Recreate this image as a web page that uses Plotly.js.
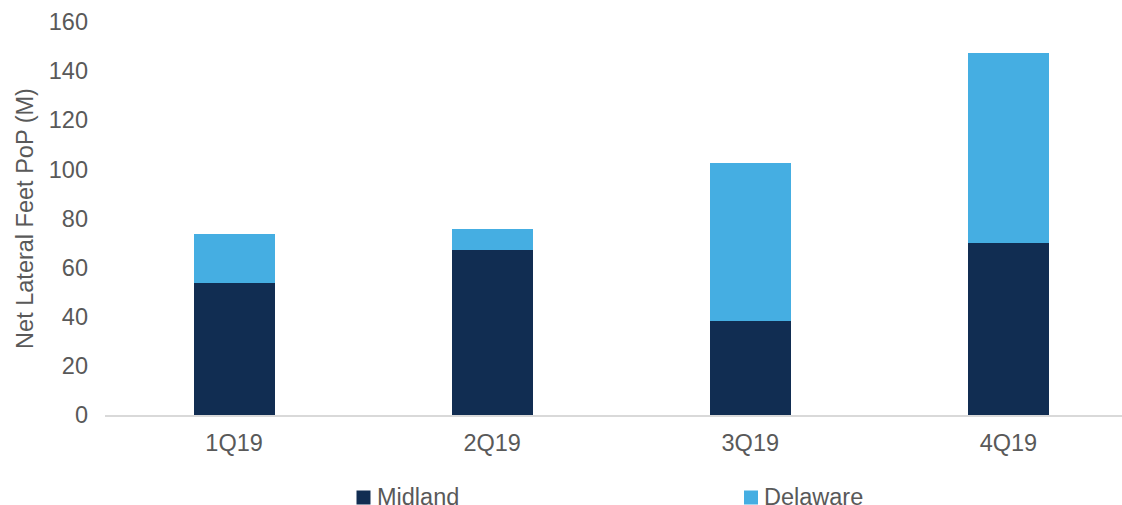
<!DOCTYPE html>
<html>
<head>
<meta charset="utf-8">
<script src="https://cdn.plot.ly/plotly-3.0.1.min.js"></script>
<style>html,body{margin:0;padding:0;background:#fff;}#chart{width:1122px;height:505px;}</style>
</head>
<body>
<div id="chart"></div>
<script>
const categories = ["1Q19", "2Q19", "3Q19", "4Q19"];
const seriesNames = ["Midland", "Delaware"];
const midland = [53.8, 67.1, 38.4, 70.1];
const delaware = [19.9, 8.7, 64.3, 77.2];
const yTicks = [0, 20, 40, 60, 80, 100, 120, 140, 160];
const colors = ["#112D52", "#45AEE2"];

const font = {family: "Liberation Sans, Arial, sans-serif", size: 23.5, color: "#595959"};

const W = 1122, H = 505, ML = 105, MR = 0, MT = 22, MB = 90;
const PW = W - ML - MR, PH = H - MT - MB;
const px2x = p => (p - ML) / PW;
const px2y = p => (H - MB - p) / PH;

const data = [
  {type: "bar", name: seriesNames[0], x: categories, y: midland, showlegend: false,
   marker: {color: colors[0], line: {width: 0}}},
  {type: "bar", name: seriesNames[1], x: categories, y: delaware, showlegend: false,
   marker: {color: colors[1], line: {width: 0}}}
];

// manual legend (positions in pixels)
const legendMarkerX = [363.5, 751];
const legendTextX = [375, 762];
const legendY = 497;
const shapes = seriesNames.map((n, i) => ({
  type: "rect", xref: "paper", yref: "paper",
  x0: px2x(legendMarkerX[i] - 7), x1: px2x(legendMarkerX[i] + 7),
  y0: px2y(legendY + 7.5), y1: px2y(legendY - 6.5),
  fillcolor: colors[i], line: {width: 0}
}));
const annotations = seriesNames.map((n, i) => ({
  text: n, xref: "paper", yref: "paper", showarrow: false,
  x: px2x(legendTextX[i]), xanchor: "left",
  y: px2y(legendY), yanchor: "middle",
  font: font
}));

const layout = {
  width: W, height: H,
  margin: {l: ML, r: MR, t: MT, b: MB, autoexpand: false},
  barmode: "stack",
  bargap: 0.686,
  paper_bgcolor: "#fff", plot_bgcolor: "#fff",
  font: font,
  showlegend: false,
  shapes: shapes,
  annotations: annotations,
  xaxis: {
    type: "category", range: [-0.5, 3.44],
    showgrid: false, zeroline: false,
    showline: true, linecolor: "#D9D9D9", linewidth: 1.5,
    ticks: "", ticklabelstandoff: 6,
    tickfont: font, automargin: false
  },
  yaxis: {
    range: [0, 160], tickvals: yTicks, ticktext: yTicks.map(String),
    showgrid: false, zeroline: false, showline: false,
    ticks: "", ticklabelstandoff: 16,
    tickfont: font, automargin: false,
    title: {text: "Net Lateral Feet PoP (M)", font: font, standoff: 8}
  }
};

Plotly.newPlot("chart", data, layout, {staticPlot: true, displayModeBar: false});
</script>
</body>
</html>
